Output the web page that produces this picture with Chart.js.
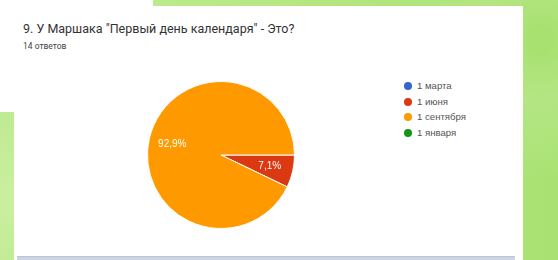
<!DOCTYPE html>
<html>
<head>
<meta charset="utf-8">
<script src="https://cdn.jsdelivr.net/npm/chart.js@4"></script>
<style>
  html, body { margin: 0; padding: 0; }
  body {
    width: 558px; height: 260px; position: relative; overflow: hidden;
    background: radial-gradient(circle at 540px 40px, #a6e06c 0, #b4e683 60px, transparent 140px),
                radial-gradient(circle at 10px 200px, #c9f09f 0, #bfeb92 80px, transparent 160px),
                linear-gradient(90deg, #c3ee99, #b3e67f 60%, #a9e272);
  }
  .white { position: absolute; background: #fff; }
  #title {
    position: absolute; left: 23px; top: 21px;
    font: 12.5px Roboto, sans-serif; color: #333; white-space: nowrap;
  }
  #count {
    position: absolute; left: 23px; top: 41px;
    font: 8.5px Roboto, sans-serif; color: #444; white-space: nowrap;
  }
  #pie { position: absolute; left: 147px; top: 81px; }
  #legend { position: absolute; left: 404px; top: 80px; font: 9.6px "Liberation Sans", Arial, sans-serif; color: #555; }
  #legend div { height: 15.7px; line-height: 12px; white-space: nowrap; }
  #legend span.dot { display: inline-block; width: 8px; height: 8px; border-radius: 50%; margin-right: 5px; vertical-align: -1px; }
  #band { position: absolute; left: 17px; top: 256px; width: 498px; height: 4px; background: #cdd5e5; border-top: 1px solid #bcc5d8; }
</style>
</head>
<body>
<div class="white" style="left:0;top:0;width:153px;height:6px"></div>
<div class="white" style="left:0;top:6px;width:523px;height:106px"></div>
<div class="white" style="left:14px;top:6px;width:509px;height:254px"></div>
<div id="band"></div>
<div id="title">9. У Маршака "Первый день календаря" - Это?</div>
<div id="count">14 ответов</div>
<canvas id="pie" width="148" height="148"></canvas>
<div id="legend"></div>
<script>
// Answers and number of responses for each
const answers = ["1 марта", "1 июня", "1 сентября", "1 января"];
const responses = [0, 1, 13, 0];
const sliceColors = ["#3366cc", "#dc3912", "#ff9900", "#109618"];

// White percentage labels inside slices, like Google Forms
const pctLabels = {
    id: "pctLabels",
    afterDatasetsDraw(chart) {
        const ctx = chart.ctx;
        const data = chart.data.datasets[0].data;
        const total = data.reduce((a, b) => a + b, 0);
        ctx.save();
        ctx.fillStyle = "#fff";
        ctx.font = "10px 'Liberation Sans', Arial, sans-serif";
        ctx.textAlign = "center";
        ctx.textBaseline = "middle";
        chart.getDatasetMeta(0).data.forEach((arc, i) => {
            if (!data[i]) return;
            const p = arc.getProps(["x", "y", "startAngle", "endAngle", "outerRadius"], true);
            const mid = (p.startAngle + p.endAngle) / 2;
            const r = p.outerRadius * 0.68;
            const text = (data[i] / total * 100).toFixed(1).replace(".", ",") + "%";
            ctx.fillText(text, p.x + Math.cos(mid) * r, p.y + Math.sin(mid) * r);
        });
        ctx.restore();
    }
};

new Chart(document.getElementById("pie"), {
    type: "pie",
    data: {
        labels: answers,
        datasets: [{
            data: responses,
            backgroundColor: sliceColors,
            borderColor: "#fff",
            borderWidth: 1,
            hoverOffset: 0
        }]
    },
    options: {
        responsive: false,
        animation: false,
        events: [],
        rotation: 90,
        layout: { padding: 0 },
        plugins: { legend: { display: false }, tooltip: { enabled: false } }
    },
    plugins: [pctLabels]
});

// Legend on the right
const legend = document.getElementById("legend");
answers.forEach((name, i) => {
    const row = document.createElement("div");
    row.innerHTML = `<span class="dot" style="background:${sliceColors[i]}"></span>${name}`;
    legend.appendChild(row);
});
</script>
</body>
</html>
